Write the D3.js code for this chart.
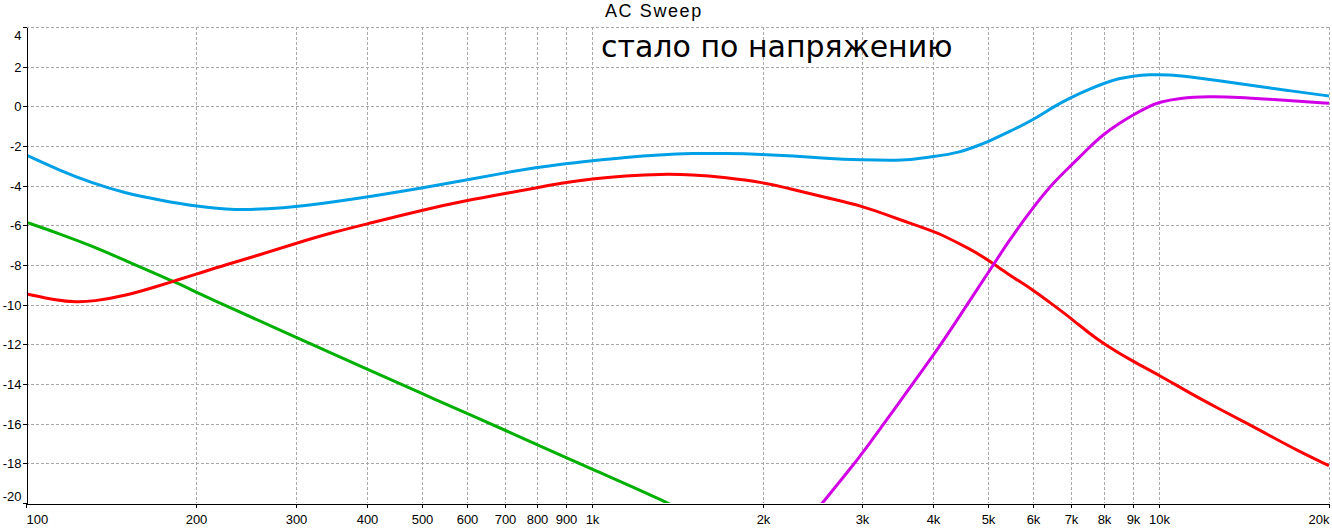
<!DOCTYPE html>
<html><head><meta charset="utf-8">
<script src="https://cdn.jsdelivr.net/npm/d3@7"></script>
<style>body{margin:0;background:#fff}svg{display:block}</style>
</head><body><svg id="c" width="1332" height="532"></svg>
<script>
const title = "AC Sweep";
const note = "стало по напряжению";
const freqTicks = [100,200,300,400,500,600,700,800,900,1000,2000,3000,4000,5000,6000,7000,8000,9000,10000,20000];
const freqTickLabels = ["100","200","300","400","500","600","700","800","900","1k","2k","3k","4k","5k","6k","7k","8k","9k","10k","20k"];
const dbTicks = [4,2,0,-2,-4,-6,-8,-10,-12,-14,-16,-18,-20];

const blueFreq = [100,114,131,150,172,200,235,268,300,352,400,508,600,700,800,876,1000,1145,1315,1503,1719,2000,2257,2580,3000,3388,3631,4000,4448,4826,5000,5450,6000,6542,7000,7543,8000,8522,9000,9625,10440,11320,12790,14450,17010,20000];
const blueDb   = [-2.45,-3.2,-3.88,-4.38,-4.72,-5.05,-5.24,-5.17,-5.06,-4.8,-4.58,-4.08,-3.72,-3.35,-3.08,-2.92,-2.74,-2.57,-2.44,-2.37,-2.37,-2.42,-2.5,-2.62,-2.7,-2.72,-2.7,-2.54,-2.34,-1.95,-1.78,-1.28,-0.69,0.0,0.45,0.86,1.16,1.41,1.53,1.6,1.6,1.49,1.29,1.07,0.79,0.52];

const redFreq = [100,114,122.5,131,150,172,184,200,225,258,300,352,400,508,600,700,800,876,1000,1145,1315,1503,1719,2000,2257,2580,3000,3388,3631,4000,4102,4632,5000,5450,6000,6542,7000,7543,8000,9000,10000,11320,12790,14450,15870,17710,20000];
const redDb   = [-9.45,-9.8,-9.87,-9.84,-9.55,-9.04,-8.78,-8.46,-7.99,-7.5,-6.9,-6.32,-5.93,-5.19,-4.75,-4.4,-4.1,-3.88,-3.65,-3.51,-3.41,-3.44,-3.58,-3.83,-4.18,-4.6,-5.02,-5.58,-5.88,-6.3,-6.42,-7.17,-7.74,-8.5,-9.25,-10.05,-10.68,-11.44,-11.97,-12.86,-13.53,-14.44,-15.25,-16.04,-16.67,-17.4,-18.12];

const greenFreq = [100,114,131,150,172,184,200,225,300,400,500,600,800,1000,1370,1500];
const greenDb   = [-5.84,-6.4,-7.05,-7.78,-8.53,-8.88,-9.37,-10.05,-11.64,-13.25,-14.48,-15.47,-17.06,-18.3,-20.0,-20.7];

const magentaFreq = [2400,2549,2845,3000,3486,4102,4448,5000,5450,6000,6542,7000,7543,8000,8522,9000,9625,10000,10870,12280,13880,15680,17710,20000];
const magentaDb   = [-20.9,-20.0,-18.32,-17.5,-14.92,-12.14,-10.6,-8.4,-6.75,-5.1,-3.8,-3.0,-2.07,-1.4,-0.86,-0.44,0.0,0.2,0.42,0.5,0.46,0.36,0.26,0.15];

const series = [
  {f: greenFreq, v: greenDb, color: "#00b000"},
  {f: redFreq, v: redDb, color: "#ff0000"},
  {f: magentaFreq, v: magentaDb, color: "#d200e6"},
  {f: blueFreq, v: blueDb, color: "#00a0e6"}
];

const svg = d3.select("#c");
const L = 26, R = 1329, T = 27, B = 503;
const x = d3.scaleLog().domain([100, 20000]).range([L, R]);
const y = d3.scaleLinear().domain([-20, 4]).range([B, T]);
const px = v => Math.round(v) + 0.5;

// grid
const grid = svg.append("g").attr("stroke", "#a8a8a8").attr("stroke-dasharray", "3,2").attr("shape-rendering", "crispEdges");
freqTicks.slice(1).forEach(f => grid.append("line").attr("x1", px(x(f))).attr("x2", px(x(f))).attr("y1", T).attr("y2", B));
dbTicks.filter(d => d > -20).forEach(d => grid.append("line").attr("x1", L).attr("x2", R).attr("y1", px(y(d))).attr("y2", px(y(d))));

// annotation text
svg.append("text").attr("x", 601).attr("y", 57).attr("font-family", "DejaVu Sans, sans-serif")
  .attr("font-size", 30).attr("fill", "#000").text(note);

// title
svg.append("text").attr("x", 605).attr("y", 17).attr("font-family", "Liberation Sans, Arial, sans-serif")
  .attr("font-size", 18).attr("letter-spacing", "1.6px").attr("fill", "#000").text(title);

// curves
svg.append("clipPath").attr("id", "clip").append("rect").attr("x", L + 1).attr("y", T).attr("width", R - L).attr("height", B - T);
const line = d3.line().x(d => x(d[0])).y(d => y(d[1])).curve(d3.curveBasis);
const cg = svg.append("g").attr("clip-path", "url(#clip)");
series.forEach(s => {
  cg.append("path").attr("d", line(s.f.map((f, i) => [f, s.v[i]])))
    .attr("fill", "none").attr("stroke", s.color).attr("stroke-width", 3);
});

// axes
const fmtX = d3.scaleOrdinal().domain(freqTicks).range(freqTickLabels);
const xAxis = d3.axisBottom(x).tickValues(freqTicks).tickFormat(d => fmtX(d)).tickSize(4).tickSizeOuter(0);
const gx = svg.append("g").attr("transform", `translate(0,${px(B)})`).call(xAxis);
gx.selectAll(".tick").attr("transform", d => `translate(${px(x(d))},0)`);
gx.select(".domain").attr("stroke", "#000").attr("shape-rendering", "crispEdges");
gx.selectAll(".tick line").attr("stroke", "#000").attr("shape-rendering", "crispEdges");
gx.selectAll("text").attr("font-family", "Liberation Sans, Arial, sans-serif").attr("font-size", 13).attr("fill", "#000").attr("dy", null).attr("y", 20)
  .attr("text-anchor", d => d === 100 ? "start" : (d === 20000 ? "end" : "middle"));

const yAxis = d3.axisLeft(y).tickValues(dbTicks).tickFormat(d => String(d)).tickSize(4).tickSizeOuter(0);
const gy = svg.append("g").attr("transform", `translate(${px(L)},0)`).call(yAxis);
gy.selectAll(".tick").attr("transform", d => `translate(0,${px(y(d))})`);
gy.select(".domain").attr("stroke", "#000").attr("shape-rendering", "crispEdges");
gy.selectAll(".tick line").attr("stroke", "#000").attr("shape-rendering", "crispEdges");
gy.selectAll("text").attr("font-family", "Liberation Sans, Arial, sans-serif").attr("font-size", 13).attr("fill", "#000").attr("x", -5)
  .attr("dy", d => d === 4 ? "0.95em" : (d === -20 ? "-0.2em" : "0.35em"));

// dashed right border
svg.append("line").attr("x1", px(R)).attr("x2", px(R)).attr("y1", T).attr("y2", B).attr("stroke", "#a8a8a8").attr("stroke-dasharray", "3,2").attr("shape-rendering", "crispEdges");
</script></body></html>
